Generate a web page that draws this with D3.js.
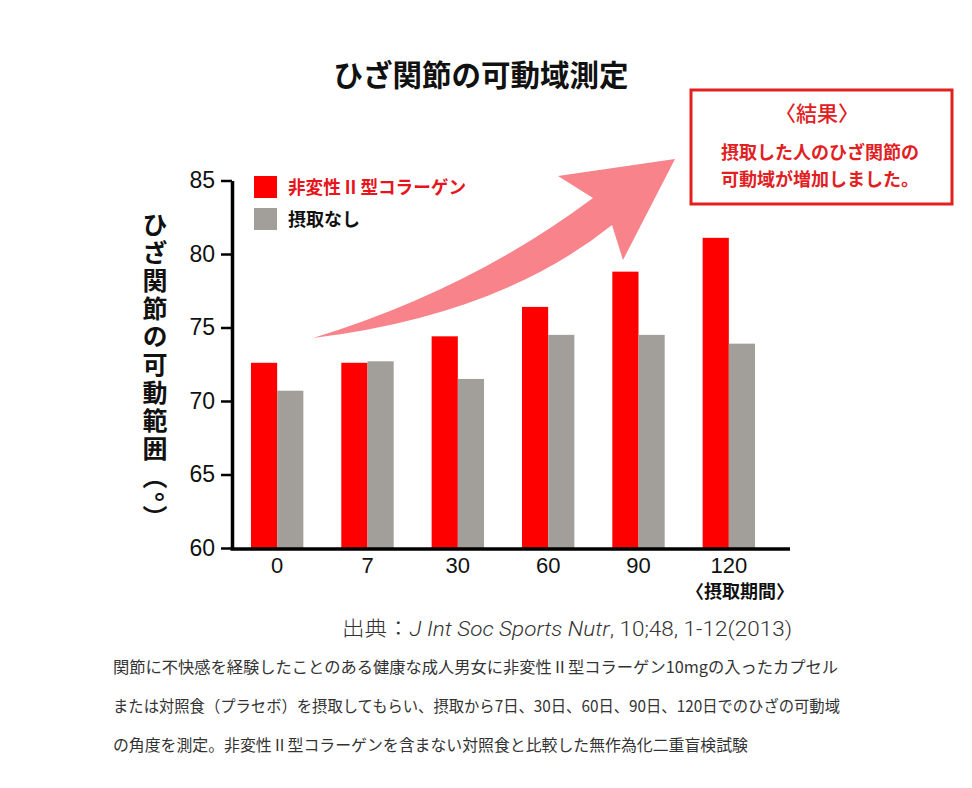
<!DOCTYPE html>
<html>
<head>
<meta charset="utf-8">
<script src="https://cdn.jsdelivr.net/npm/d3@7"></script>
<style>
  body { margin: 0; background: #fff; }
  svg { display: block; }
</style>
</head>
<body>
<div id="chart-area"></div>
<script>
// data
var days = ["0", "7", "30", "60", "90", "120"];
var seriesNames = ["非変性 II 型コラーゲン", "摂取なし"];
var collagen = [72.6, 72.6, 74.4, 76.4, 78.8, 81.1];
var noIntake = [70.7, 72.7, 71.5, 74.5, 74.5, 73.9];
var yTicks = [60, 65, 70, 75, 80, 85];
var notes = [
    "関節に不快感を経験したことのある健康な成人男女に非変性Ⅱ型コラーゲン10mgの入ったカプセル",
    "または対照食（プラセボ）を摂取してもらい、摂取から7日、30日、60日、90日、120日でのひざの可動域",
    "の角度を測定。非変性Ⅱ型コラーゲンを含まない対照食と比較した無作為化二重盲検試験"
];

var width = 972, height = 788;
var jp = "'Noto Sans CJK JP', 'Noto Sans', sans-serif";
var num = "'Liberation Sans', Arial, sans-serif";
var colors = ["#ff0000", "#a29e9a"];

var svg = d3.select("#chart-area")
    .append("svg")
    .attr("width", width)
    .attr("height", height);

var plot = {left: 232, right: 774, bottom: 548, top: 180.5, axisEnd: 790};

var y = d3.scaleLinear().domain([60, 85]).range([plot.bottom, plot.top]);
var x0 = d3.scaleBand().domain(days).range([plot.left, plot.right])
    .paddingInner(0.42).paddingOuter(0.21);
var x1 = d3.scaleBand().domain([0, 1]).range([0, x0.bandwidth()]);

// title
svg.append("text")
    .attr("x", 481).attr("y", 86)
    .attr("text-anchor", "middle")
    .attr("font-family", jp).attr("font-weight", 700)
    .attr("font-size", "29.5px").attr("fill", "#111")
    .text("ひざ関節の可動域測定");

// bars
var rows = days.map(function(d, i) { return { day: d, vals: [collagen[i], noIntake[i]] }; });
var groups = svg.selectAll(".grp").data(rows).enter().append("g")
    .attr("class", "grp")
    .attr("transform", function(d) { return "translate(" + x0(d.day) + ",0)"; });
groups.selectAll("rect").data(function(d) { return d.vals; }).enter().append("rect")
    .attr("x", function(d, i) { return x1(i); })
    .attr("y", function(d) { return y(d); })
    .attr("width", x1.bandwidth())
    .attr("height", function(d) { return plot.bottom - y(d); })
    .attr("fill", function(d, i) { return colors[i]; });

// arrow
svg.append("path")
    .attr("d", "M313,338 Q470,290 593,198 L558,176 L675,159 L623,260 L612,225 Q500,315 313,338 Z")
    .attr("fill", "#f8838a");

// y axis
var yAxisGroup = svg.append("g").attr("transform", "translate(" + plot.left + ",0)")
    .call(d3.axisLeft(y).tickValues(yTicks).tickSize(11).tickSizeOuter(0).tickPadding(6));
yAxisGroup.select(".domain").attr("stroke", "#000").attr("stroke-width", 3.5);
yAxisGroup.selectAll(".tick line").attr("stroke", "#000").attr("stroke-width", 2.5);
yAxisGroup.selectAll(".tick text")
    .attr("font-family", num).attr("font-size", "23px").attr("fill", "#111");

// x axis
var xAxisGroup = svg.append("g").attr("transform", "translate(0," + plot.bottom + ")")
    .call(d3.axisBottom(x0).tickSize(0).tickPadding(9));
xAxisGroup.select(".domain").remove();
xAxisGroup.selectAll(".tick text")
    .attr("font-family", num).attr("font-size", "22px").attr("fill", "#111");
svg.append("line")
    .attr("x1", plot.left - 1.5).attr("x2", plot.axisEnd)
    .attr("y1", plot.bottom + 1).attr("y2", plot.bottom + 1)
    .attr("stroke", "#000").attr("stroke-width", 3.5);

svg.append("text")
    .attr("x", 740).attr("y", 598)
    .attr("text-anchor", "middle")
    .attr("font-family", jp).attr("font-weight", 700)
    .attr("font-size", "18px").attr("fill", "#111")
    .text("〈摂取期間〉");

// y label, vertical
svg.append("text")
    .attr("x", 155).attr("y", 212)
    .style("writing-mode", "vertical-rl")
    .attr("font-family", jp).attr("font-weight", 700)
    .attr("font-size", "25px").attr("letter-spacing", 3).attr("fill", "#111")
    .text("ひざ関節の可動範囲（°）");

// legend
var legend = svg.selectAll(".legend").data(seriesNames).enter().append("g")
    .attr("class", "legend")
    .attr("transform", function(d, i) { return "translate(254," + (176 + i * 32) + ")"; });
legend.append("rect")
    .attr("width", 23).attr("height", 22)
    .attr("fill", function(d, i) { return colors[i]; });
legend.append("text")
    .attr("x", 34).attr("y", 18)
    .attr("font-family", jp).attr("font-weight", 700)
    .attr("font-size", "18px")
    .attr("fill", function(d, i) { return i === 0 ? "#e8141c" : "#111"; })
    .attr("textLength", function(d, i) { return i === 0 ? 178 : null; })
    .attr("lengthAdjust", "spacingAndGlyphs")
    .text(function(d) { return d; });

// result box
svg.append("rect")
    .attr("x", 691).attr("y", 90).attr("width", 261).attr("height", 114)
    .attr("fill", "#fff").attr("stroke", "#e2201f").attr("stroke-width", 3);
svg.append("text")
    .attr("x", 817).attr("y", 121).attr("text-anchor", "middle")
    .attr("font-family", jp).attr("font-weight", 500)
    .attr("font-size", "21px").attr("fill", "#e2201f")
    .text("〈結果〉");
svg.append("text")
    .attr("x", 820).attr("y", 159).attr("text-anchor", "middle")
    .attr("font-family", jp).attr("font-weight", 700)
    .attr("font-size", "18px").attr("fill", "#e2201f")
    .text("摂取した人のひざ関節の");
svg.append("text")
    .attr("x", 820).attr("y", 186).attr("text-anchor", "middle")
    .attr("font-family", jp).attr("font-weight", 700)
    .attr("font-size", "18px").attr("fill", "#e2201f")
    .text("可動域が増加しました。");

// source
var src = svg.append("text")
    .attr("x", 342).attr("y", 636)
    .attr("font-family", "Roboto, " + jp).attr("font-weight", 300)
    .attr("font-size", "20px").attr("fill", "#333")
    .attr("textLength", 450).attr("lengthAdjust", "spacingAndGlyphs");
src.append("tspan").text("出典：");
src.append("tspan").attr("font-style", "italic").text("J Int Soc Sports Nutr");
src.append("tspan").text(", 10;48, 1-12(2013)");

// notes under the chart
var noteLen = [725, 727, 635];
svg.selectAll(".note").data(notes).enter().append("text")
    .attr("class", "note")
    .attr("x", 113).attr("y", function(d, i) { return 673 + i * 39; })
    .attr("font-family", jp).attr("font-weight", 400)
    .attr("font-size", "16px").attr("fill", "#333")
    .attr("textLength", function(d, i) { return noteLen[i]; })
    .attr("lengthAdjust", "spacingAndGlyphs")
    .text(function(d) { return d; });
</script>
</body>
</html>
